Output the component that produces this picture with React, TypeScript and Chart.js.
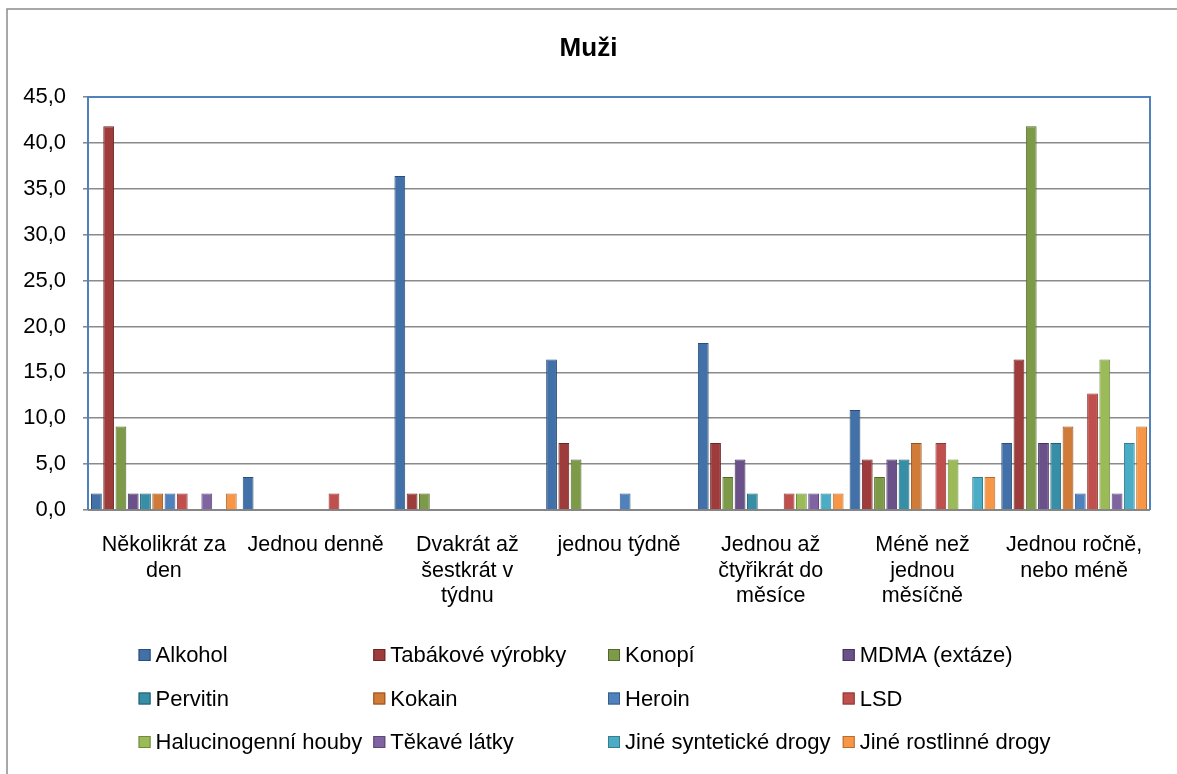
import React, { useEffect, useRef } from "react";
import { Chart, registerables } from "chart.js";

Chart.register(...registerables);

const chartTitle = "Muži";

const categories: string[][] = [
  ["Několikrát za", "den"],
  ["Jednou denně"],
  ["Dvakrát až", "šestkrát v", "týdnu"],
  ["jednou týdně"],
  ["Jednou až", "čtyřikrát do", "měsíce"],
  ["Méně než", "jednou", "měsíčně"],
  ["Jednou ročně,", "nebo méně"],
];

const seriesNames = [
  "Alkohol",
  "Tabákové výrobky",
  "Konopí",
  "MDMA (extáze)",
  "Pervitin",
  "Kokain",
  "Heroin",
  "LSD",
  "Halucinogenní houby",
  "Těkavé látky",
  "Jiné syntetické drogy",
  "Jiné rostlinné drogy",
];

const alkohol = [1.8, 3.6, 36.4, 16.4, 18.2, 10.9, 7.3];
const tabak = [41.8, 0, 1.8, 7.3, 7.3, 5.5, 16.4];
const konopi = [9.1, 0, 1.8, 5.5, 3.6, 3.6, 41.8];
const mdma = [1.8, 0, 0, 0, 5.5, 5.5, 7.3];
const pervitin = [1.8, 0, 0, 0, 1.8, 5.5, 7.3];
const kokain = [1.8, 0, 0, 0, 0, 7.3, 9.1];
const heroin = [1.8, 0, 0, 1.8, 0, 0, 1.8];
const lsd = [1.8, 1.8, 0, 0, 1.8, 7.3, 12.7];
const halucinogenniHouby = [0, 0, 0, 0, 1.8, 5.5, 16.4];
const tekaveLatky = [1.8, 0, 0, 0, 1.8, 0, 1.8];
const jineSynteticke = [0, 0, 0, 0, 1.8, 3.6, 7.3];
const jineRostlinne = [1.8, 0, 0, 0, 1.8, 3.6, 9.1];

const seriesValues = [
  alkohol,
  tabak,
  konopi,
  mdma,
  pervitin,
  kokain,
  heroin,
  lsd,
  halucinogenniHouby,
  tekaveLatky,
  jineSynteticke,
  jineRostlinne,
];

const fillColors = [
  "#4270A8",
  "#9E3C3B",
  "#7C9A47",
  "#6A5189",
  "#368FA6",
  "#D07B37",
  "#4F81BD",
  "#C0504D",
  "#9BBB59",
  "#8064A2",
  "#4BACC6",
  "#F79646",
];
const borderColors = [
  "#2C4D75",
  "#6B2726",
  "#53682D",
  "#44345A",
  "#215F70",
  "#985020",
  "#385D8A",
  "#8C3836",
  "#71893F",
  "#5C4776",
  "#357D91",
  "#B66D31",
];

const yMin = 0;
const yMax = 45;
const yStep = 5;

const FONT_FAMILY = '"Liberation Sans", Arial, sans-serif';

const framePlugin = {
  id: "frame",
  beforeDraw(chart: any) {
    const ctx = chart.ctx;
    ctx.save();
    ctx.fillStyle = "#ffffff";
    ctx.fillRect(0, 0, chart.width, chart.height);
    ctx.strokeStyle = "#8c8c8c";
    ctx.lineWidth = 1.5;
    ctx.beginPath();
    ctx.moveTo(7, chart.height);
    ctx.lineTo(7, 9);
    ctx.lineTo(chart.width, 9);
    ctx.stroke();
    ctx.restore();
  },
  beforeDatasetsDraw(chart: any) {
    const { ctx, chartArea } = chart;
    const { left, right, top, bottom } = chartArea;
    ctx.save();
    ctx.strokeStyle = "#4F81BD";
    ctx.lineWidth = 2;
    ctx.beginPath();
    ctx.moveTo(left, bottom);
    ctx.lineTo(left, top);
    ctx.lineTo(right, top);
    ctx.lineTo(right, bottom);
    ctx.stroke();
    ctx.strokeStyle = "#868686";
    ctx.lineWidth = 2;
    ctx.beginPath();
    ctx.moveTo(left, bottom);
    ctx.lineTo(right, bottom);
    ctx.stroke();
    ctx.restore();
  },
};

const gridLegendPlugin = {
  id: "gridLegend",
  afterDraw(chart: any) {
    const ctx = chart.ctx;
    const datasets = chart.data.datasets;
    const cols = 4;
    const rows = Math.ceil(datasets.length / cols);
    const box = 12;
    const boxGap = 5;
    const colGap = 11;
    ctx.save();
    ctx.font = `22px ${FONT_FAMILY}`;
    let maxItem = 0;
    for (const ds of datasets) {
      maxItem = Math.max(maxItem, box + boxGap + ctx.measureText(ds.label).width);
    }
    const colW = maxItem + colGap;
    const total = colW * (cols - 1) + maxItem;
    const startX = chart.width / 2 - total / 2 + 14;
    const firstRowY = chart.chartArea.bottom + 145;
    const rowStep = 43.5;
    ctx.textBaseline = "middle";
    ctx.textAlign = "left";
    for (let r = 0; r < rows; r++) {
      for (let c = 0; c < cols; c++) {
        const ds = datasets[r * cols + c];
        if (!ds) continue;
        const x = startX + c * colW;
        const y = firstRowY + r * rowStep;
        ctx.fillStyle = ds.backgroundColor;
        ctx.fillRect(x, y - box / 2, box, box);
        ctx.strokeStyle = ds.borderColor;
        ctx.lineWidth = 1;
        ctx.strokeRect(x + 0.5, y - box / 2 + 0.5, box - 1, box - 1);
        ctx.fillStyle = "#000000";
        ctx.fillText(ds.label, x + box + boxGap, y + 1);
      }
    }
    ctx.restore();
  },
};

export default function App() {
  const canvasRef = useRef<HTMLCanvasElement | null>(null);

  useEffect(() => {
    document.body.style.margin = "0";
    const canvas = canvasRef.current;
    if (!canvas) return;
    const chart = new Chart(canvas, {
      type: "bar",
      data: {
        labels: categories as any,
        datasets: seriesNames.map((name, i) => ({
          label: name,
          data: seriesValues[i],
          backgroundColor: fillColors[i],
          borderColor: borderColors[i],
          borderWidth: 1,
          barPercentage: 0.88,
          categoryPercentage: 0.97,
          yAxisID: "y",
        })),
      },
      options: {
        responsive: false,
        animation: false,
        layout: {
          padding: { left: 0, right: 0, top: 0, bottom: 134 },
        },
        plugins: {
          legend: { display: false },
          tooltip: { enabled: false },
          title: {
            display: true,
            text: chartTitle,
            color: "#000000",
            font: { family: FONT_FAMILY, size: 26, weight: "bold" },
            padding: { top: 33, bottom: 32.8 },
          },
        },
        scales: {
          x: {
            grid: { display: false, drawTicks: false },
            border: { display: false },
            ticks: {
              color: "#000000",
              font: { family: FONT_FAMILY, size: 21.5, lineHeight: 1.17 },
              padding: 23,
              maxRotation: 0,
              minRotation: 0,
              autoSkip: false,
            },
            afterFit(scale: any) {
              scale.height = 130;
            },
          },
          y: {
            position: "left",
            min: yMin,
            max: yMax,
            grid: {
              color: "#8a8a8a",
              lineWidth: 1.6,
              drawTicks: true,
              tickLength: 5,
            },
            border: { display: false },
            ticks: {
              stepSize: yStep,
              color: "#000000",
              font: { family: FONT_FAMILY, size: 22 },
              padding: 17,
              callback: (v: any) => Number(v).toFixed(1).replace(".", ","),
            },
            afterFit(scale: any) {
              scale.width = 88;
            },
          },
          yRightSpacer: {
            position: "right",
            min: yMin,
            max: yMax,
            grid: { display: false, drawTicks: false },
            border: { display: false },
            ticks: { display: false },
            afterFit(scale: any) {
              scale.width = 27;
            },
          },
        },
      },
      plugins: [framePlugin, gridLegendPlugin],
    });
    return () => chart.destroy();
  }, []);

  return (
    <div style={{ width: 1177, height: 774, position: "relative" }}>
      <canvas
        ref={canvasRef}
        width={1177}
        height={774}
        style={{ width: 1177, height: 774, display: "block" }}
      />
    </div>
  );
}
